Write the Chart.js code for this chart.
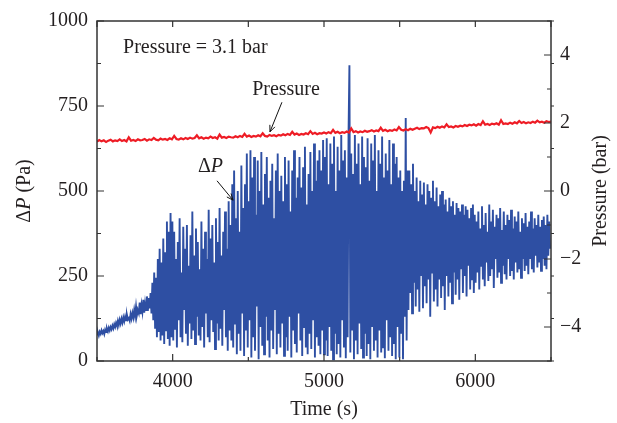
<!DOCTYPE html>
<html>
<head>
<meta charset="utf-8">
<script src="https://cdn.jsdelivr.net/npm/chart.js@4/dist/chart.umd.min.js"></script>
<style>
	html, body { margin: 0; padding: 0; background: #fff; }
	canvas { display: block; }
</style>
</head>
<body>
<canvas id="chart" width="617" height="423"></canvas>
<script>
// ---- data ----
// differential pressure, one value every 6 s from 3500 s
const dpStart = 3500;
const dpStep = 6;
const dpValues = [
	// 3500 - 3860, slow rise
	78, 84, 75, 86, 80, 90, 82, 88, 79, 92, 85, 95, 87, 98, 90, 100, 93, 104, 96, 108,
	100, 112, 104, 118, 106, 121, 110, 124, 113, 128, 117, 131, 120, 135, 122, 126, 118, 138, 125, 141,
	128, 150, 132, 160, 135, 148, 140, 172, 138, 165, 145, 180, 142, 170, 150, 190, 147, 185, 155, 200,
	// 3860 - 4000, onset
	140, 230, 120, 260, 95, 245, 70, 300, 85, 330, 60, 290, 75, 360, 50, 320, 90, 410, 65, 380,
	45, 435, 70,
	// 4000 - 4400
	410, 60, 380, 95, 300, 40, 350, 120, 420, 70, 260, 55, 395, 150, 330, 80, 400, 45, 280, 110,
	370, 65, 440, 90, 310, 50, 390, 130, 350, 75, 270, 60, 410, 100, 330, 40, 380, 140, 300, 70,
	445, 55, 360, 120, 400, 85, 290, 35, 420, 110, 350, 60, 450, 95, 310, 45, 380, 150, 440, 70,
	330, 30, 470, 90, 400, 60, 520,
	// 4400 - 5000
	40, 560, 110, 420, 20, 500, 80, 380, 30, 575, 140, 450, 15, 520, 90, 610, 40, 470, 120, 620,
	10, 540, 70, 600, 30, 430, 160, 590, 5, 500, 100, 615, 45, 460, 20, 550, 130, 600, 60, 480,
	10, 530, 90, 580, 35, 420, 150, 560, 20, 610, 80, 500, 40, 545, 110, 470, 15, 600, 70, 520,
	30, 590, 130, 440, 10, 560, 90, 620, 50, 480, 25, 540, 140, 600, 60, 510, 15, 570, 100, 630,
	40, 460, 20, 550, 80, 615, 35, 500, 120, 640, 10, 530, 70, 590, 45, 620, 20, 560, 90, 650,
	// 5000 - 5560
	20, 600, 60, 655, 15, 520, 100, 640, 30, 580, 5, 660, 80, 500, 20, 630, 50, 560, 10, 665,
	120, 590, 40, 620, 8, 540, 70, 660, 870, 25, 610, 90, 550, 5, 665, 60, 580, 20, 640, 110,
	520, 35, 660, 10, 600, 80, 570, 15, 655, 50, 530, 5, 640, 100, 590, 30, 665, 60, 500, 10,
	620, 90, 580, 25, 660, 40, 540, 8, 610, 120, 560, 30, 650, 70, 520, 15, 640, 50, 580, 5,
	600, 100, 540, 10, 560, 80, 500, 5, 530, 130, 715, 60, 560,
	// 5560 - 6000, decay
	150, 560, 200, 520, 140, 580, 230, 500, 160, 540, 210, 470, 145, 530, 250, 490, 155, 525, 220, 460,
	170, 520, 240, 500, 130, 480, 260, 530, 175, 470, 210, 510, 160, 455, 240, 490, 185, 500, 220, 460,
	150, 475, 250, 440, 190, 480, 230, 455, 170, 470, 260, 430, 195, 465, 240, 450, 180, 440, 270, 460,
	200, 430, 250, 455, 190, 445, 280, 420, 210, 450, 240, 460, 200,
	// 6000 - 6500
	430, 230, 410, 260, 440, 210, 390, 280, 455, 240, 400, 220, 435, 290, 380, 235, 460, 250, 410, 270,
	445, 215, 395, 300, 430, 245, 420, 260, 450, 230, 385, 280, 440, 255, 400, 240, 430, 300, 415, 250,
	445, 265, 390, 240, 425, 290, 410, 260, 440, 270, 380, 245, 420, 300, 405, 265, 435, 280, 395, 255,
	410, 300, 440, 270, 390, 260, 420, 310, 400, 275, 430, 290, 395, 265, 415, 300, 425, 280, 400, 270,
	430, 310, 410, 330
];

// pressure (bar), one value every 15 s from 3500 s
const prStart = 3500;
const prStep = 15;
const prValues = [
	1.45, 1.50, 1.46, 1.49, 1.44, 1.48, 1.51, 1.46, 1.49, 1.47, 1.52, 1.47, 1.50, 1.46, 1.58, 1.48, 1.50, 1.47, 1.52, 1.49,
	1.50, 1.53, 1.48, 1.52, 1.50, 1.56, 1.51, 1.49, 1.54, 1.51, 1.53, 1.50, 1.55, 1.52, 1.62, 1.53, 1.51, 1.55, 1.52, 1.56,
	1.53, 1.57, 1.54, 1.56, 1.64, 1.55, 1.58, 1.54, 1.57, 1.55, 1.60, 1.56, 1.58, 1.54, 1.66, 1.57, 1.59, 1.56, 1.60, 1.58,
	1.57, 1.61, 1.58, 1.62, 1.59, 1.68, 1.60, 1.63, 1.59, 1.62, 1.60, 1.64, 1.61, 1.70, 1.62, 1.60, 1.65, 1.62, 1.64, 1.61,
	1.65, 1.63, 1.67, 1.64, 1.68, 1.65, 1.74, 1.66, 1.69, 1.65, 1.68, 1.66, 1.70, 1.67, 1.76, 1.68, 1.71, 1.67, 1.70, 1.69,
	1.72, 1.69, 1.73, 1.70, 1.80, 1.71, 1.74, 1.70, 1.73, 1.71, 1.75, 1.72, 1.84, 1.73, 1.76, 1.72, 1.75, 1.73, 1.77, 1.74,
	1.76, 1.79, 1.75, 1.78, 1.76, 1.86, 1.77, 1.80, 1.76, 1.79, 1.77, 1.81, 1.78, 1.88, 1.80, 1.78, 1.82, 1.79, 1.83, 1.80,
	1.83, 1.86, 1.82, 1.85, 1.84, 1.88, 1.85, 1.72, 1.87, 1.85, 1.89, 1.86, 1.90, 1.87, 1.96, 1.88, 1.90, 1.87, 1.91, 1.89,
	1.92, 1.90, 1.94, 1.91, 1.95, 1.93, 1.96, 1.92, 1.97, 1.94, 2.05, 1.95, 1.97, 1.94, 1.98, 1.96, 1.99, 1.95, 2.08, 1.97,
	1.99, 1.97, 2.01, 1.98, 2.02, 1.99, 2.06, 2.00, 2.03, 1.99, 2.02, 2.00, 2.04, 2.01, 2.07, 2.02, 2.04, 2.01, 2.05, 2.03,
	2.04
];

// axes
const timeTicks = [4000, 5000, 6000];
const dpTicks = [0, 250, 500, 750, 1000];
const prTicks = [-4, -2, 0, 2, 4];

// ---- styling ----
const FONT = "'Liberation Serif', 'DejaVu Serif', serif";
const TEXT = '#231f20';
const AXIS = '#333333';
const BLUE = '#2e4fa3';
const RED = '#ee1c25';

function toPoints(start, step, values) {
	let pts = [];
	for (let i = 0; i < values.length; i++) {
		pts.push({ x: start + i * step, y: values[i] });
	}
	return pts;
}

function setTicks(list) {
	return function(scale) {
		scale.ticks = list.map(v => ({ value: v }));
	};
}

// frame, inward tick marks, y titles and annotations
const decorPlugin = {
	id: 'decor',
	afterDatasetsDraw(chart) {
		const ctx = chart.ctx;
		const a = chart.chartArea;
		const sx = chart.scales.x, sy = chart.scales.y, sp = chart.scales.y1;

		ctx.save();
		ctx.strokeStyle = AXIS;
		ctx.lineWidth = 1.5;
		ctx.strokeRect(a.left, a.top, a.right - a.left, a.bottom - a.top);

		ctx.lineWidth = 1.2;
		ctx.beginPath();
		// time: every 500 s
		for (let t = 3500; t <= 6500; t += 500) {
			let px = sx.getPixelForValue(t);
			let len = (t % 1000 == 0) ? 7 : 4;
			ctx.moveTo(px, a.bottom); ctx.lineTo(px, a.bottom - len);
			ctx.moveTo(px, a.top); ctx.lineTo(px, a.top + 6);
		}
		// dP: every 125 Pa
		for (let v = 0; v <= 1000; v += 125) {
			let py = sy.getPixelForValue(v);
			let len = (v % 250 == 0) ? 7 : 4;
			ctx.moveTo(a.left, py); ctx.lineTo(a.left + len, py);
			ctx.moveTo(a.right, py); ctx.lineTo(a.right + 3, py);
		}
		// pressure: every 1 bar
		for (let v = -5; v <= 5; v++) {
			let py = sp.getPixelForValue(v);
			let len = (v % 2 == 0) ? 7 : 4;
			ctx.moveTo(a.right, py); ctx.lineTo(a.right - len, py);
		}
		ctx.stroke();

		ctx.fillStyle = TEXT;
		ctx.textBaseline = 'middle';

		// left title: ΔP (Pa) with italic P
		const parts = [['Δ', ''], ['P', 'italic '], [' (Pa)', '']];
		let total = 0;
		parts.forEach(p => { ctx.font = p[1] + '20px ' + FONT; total += ctx.measureText(p[0]).width; });
		ctx.save();
		ctx.translate(25, (a.top + a.bottom) / 2);
		ctx.rotate(-Math.PI / 2);
		let cx = -total / 2;
		ctx.textAlign = 'left';
		parts.forEach(p => {
			ctx.font = p[1] + '20px ' + FONT;
			ctx.fillText(p[0], cx, 0);
			cx += ctx.measureText(p[0]).width;
		});
		ctx.restore();

		// right title
		ctx.save();
		ctx.translate(601, (a.top + a.bottom) / 2);
		ctx.rotate(-Math.PI / 2);
		ctx.textAlign = 'center';
		ctx.font = '20px ' + FONT;
		ctx.fillText('Pressure (bar)', 0, 0);
		ctx.restore();

		// annotations (anchored in data units)
		ctx.textBaseline = 'alphabetic';
		ctx.textAlign = 'left';
		ctx.font = '20px ' + FONT;
		ctx.fillText('Pressure = 3.1 bar', sx.getPixelForValue(3672), sy.getPixelForValue(905));

		ctx.textAlign = 'center';
		ctx.fillText('Pressure', sx.getPixelForValue(4749), sy.getPixelForValue(781));

		let dx = sx.getPixelForValue(4167), dy = sy.getPixelForValue(556);
		ctx.textAlign = 'left';
		ctx.fillText('Δ', dx, dy);
		let w = ctx.measureText('Δ').width;
		ctx.font = 'italic 20px ' + FONT;
		ctx.fillText('P', dx + w, dy);

		drawArrow(ctx, sx, sy, 4722, 761, 4643, 674);
		drawArrow(ctx, sx, sy, 4293, 530, 4399, 473);
		ctx.restore();
	}
};

function drawArrow(ctx, sx, sy, x0, y0, x1, y1) {
	let ax = sx.getPixelForValue(x0), ay = sy.getPixelForValue(y0);
	let bx = sx.getPixelForValue(x1), by = sy.getPixelForValue(y1);
	let ang = Math.atan2(by - ay, bx - ax);
	ctx.strokeStyle = '#111';
	ctx.lineWidth = 1;
	ctx.beginPath();
	ctx.moveTo(ax, ay); ctx.lineTo(bx, by);
	ctx.moveTo(bx - 7 * Math.cos(ang - 0.4), by - 7 * Math.sin(ang - 0.4));
	ctx.lineTo(bx, by);
	ctx.lineTo(bx - 7 * Math.cos(ang + 0.4), by - 7 * Math.sin(ang + 0.4));
	ctx.stroke();
}

const tickFont = { family: FONT, size: 20 };
const plainLabel = v => (v < 0 ? '\u2212' + Math.abs(v) : String(v));

new Chart(document.getElementById('chart'), {
	type: 'line',
	data: {
		datasets: [
			{
				label: 'Pressure',
				data: toPoints(prStart, prStep, prValues),
				yAxisID: 'y1',
				borderColor: RED,
				borderWidth: 2.2,
				pointRadius: 0,
				order: 0
			},
			{
				label: 'ΔP',
				data: toPoints(dpStart, dpStep, dpValues),
				yAxisID: 'y',
				borderColor: BLUE,
				borderWidth: 1.9,
				pointRadius: 0,
				order: 1
			}
		]
	},
	options: {
		responsive: false,
		animation: false,
		events: [],
		layout: { padding: { top: 14, left: 0, right: 0, bottom: 0 } },
		plugins: { legend: { display: false }, tooltip: { enabled: false } },
		scales: {
			x: {
				type: 'linear',
				min: 3500, max: 6500,
				afterBuildTicks: setTicks(timeTicks),
				afterFit(s) { s.height = 62; },
				grid: { display: false, drawTicks: false },
				border: { display: false },
				ticks: { font: tickFont, color: TEXT, padding: 9, maxRotation: 0, callback: plainLabel },
				title: { display: true, text: 'Time (s)', font: tickFont, color: TEXT, padding: { top: 0, bottom: 1 } }
			},
			y: {
				position: 'left',
				min: 0, max: 1000,
				afterBuildTicks: setTicks(dpTicks),
				afterFit(s) { s.width = 97; },
				grid: { display: false, drawTicks: false },
				border: { display: false },
				ticks: { font: tickFont, color: TEXT, padding: 9, callback: plainLabel }
			},
			y1: {
				position: 'right',
				min: -5, max: 5,
				afterBuildTicks: setTicks(prTicks),
				afterFit(s) { s.width = 66; },
				grid: { display: false, drawTicks: false },
				border: { display: false },
				ticks: { font: tickFont, color: TEXT, padding: 9, callback: plainLabel }
			}
		}
	},
	plugins: [decorPlugin]
});
</script>
</body>
</html>
